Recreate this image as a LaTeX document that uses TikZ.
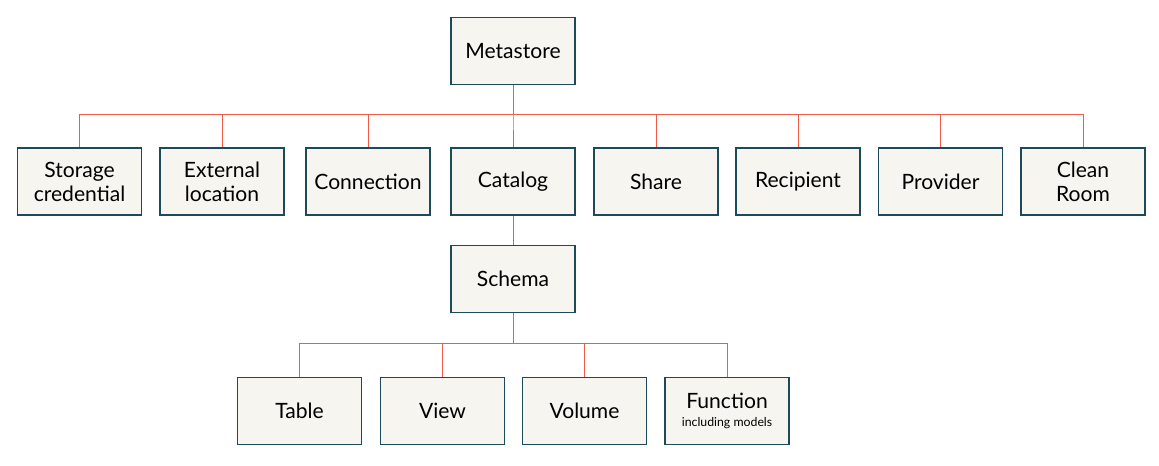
\documentclass[tikz,border=0pt]{standalone}
\usepackage{fontspec}
\setmainfont{Lato}
\usetikzlibrary{calc,positioning}
\usepackage{xcolor}
\definecolor{boxfill}{HTML}{F7F5F0}
\definecolor{boxline}{HTML}{1D4A5A}
\definecolor{wire}{HTML}{F05A48}

\tikzset{
  objbox/.style={draw=boxline,fill=boxfill,line width=0.75pt,minimum width=124*0.02cm,
    minimum height=67*0.02cm,align=center,font=\fontsize{12}{13.6}\selectfont,inner sep=1pt},
  link/.style={draw=wire,line width=0.45pt}
}

\begin{document}
\begin{tikzpicture}[x=0.02cm,y=-0.02cm]
  \useasboundingbox (0,0) rectangle (1159,466);
  \node[objbox] (meta) at (513,51) {Metastore};
  \coordinate (bus) at (513,114);
  \foreach \n/\cx/\txt in {stor/79.5/{Storage\\credential}, extl/222/{External\\location},
      conn/368/Connection, cat/513/Catalog, share/656/Share, recip/798/Recipient,
      prov/940.5/Provider, clean/1083/{Clean\\Room}}{
    \node[objbox] (\n) at (\cx,181.5) {\txt};
    \draw[link] (meta.south) -- (meta.south |- bus) -| (\n.north);
  }
  \node[objbox] (schema) at (513,279) {Schema};
  \draw[link] (cat.south) -- (schema.north);
  \coordinate (bus2) at (513,343);
  \foreach \n/\cx/\txt in {tab/299.5/Table, view/442.5/View, vol/584.5/Volume,
      func/727/{Function\\[-3pt]{\fontsize{7}{8}\selectfont including models}}}{
    \node[objbox] (\n) at (\cx,411) {\txt};
    \draw[link] (schema.south) -- (schema.south |- bus2) -| (\n.north);
  }
\end{tikzpicture}
\end{document}
